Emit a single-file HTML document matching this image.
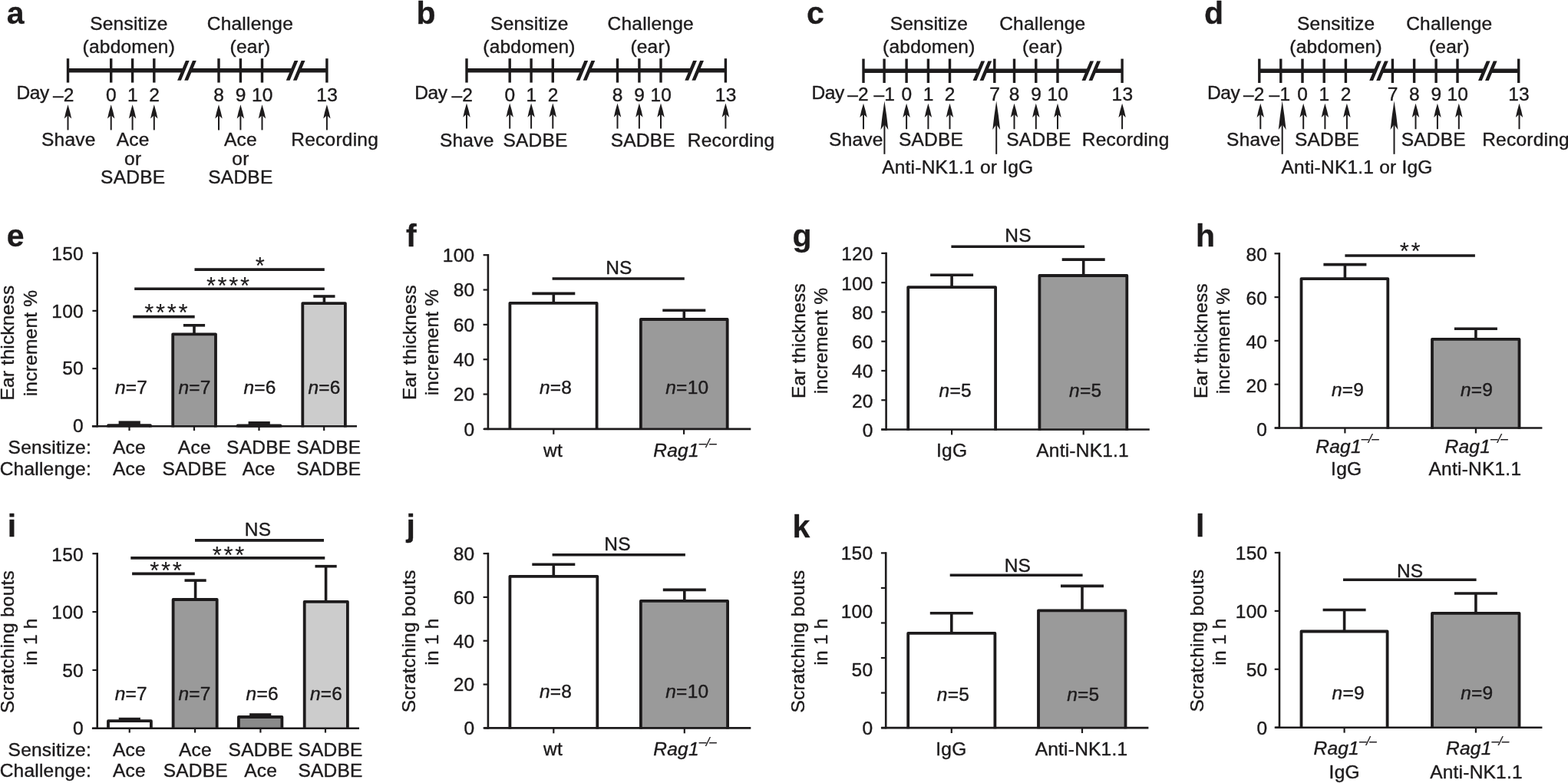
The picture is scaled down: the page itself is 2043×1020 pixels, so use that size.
<!DOCTYPE html>
<html lang="en">
<head>
<meta charset="utf-8">
<title>Figure</title>
<style>
html,body{margin:0;padding:0;background:#fff;}
body{width:2043px;height:1020px;overflow:hidden;}
svg{display:block;}
svg text{font-family:"Liberation Sans",Arial,Helvetica,sans-serif;font-size:24.5px;fill:#1d1b1c;stroke:#1d1b1c;stroke-width:0.4px;stroke-linejoin:round;letter-spacing:0.22px;}
</style>
</head>
<body>
<svg width="2043" height="1020" viewBox="0 0 2043 1020" stroke="#1d1b1c" fill="none">
<rect x="0" y="0" width="2043" height="1020" fill="#ffffff" stroke="none"/>
<line x1="88.50" y1="91.80" x2="238.90" y2="91.80" stroke-width="5.4"/>
<line x1="248.00" y1="91.80" x2="380.60" y2="91.80" stroke-width="5.4"/>
<line x1="389.70" y1="91.80" x2="425.90" y2="91.80" stroke-width="5.4"/>
<path d="M231.10 104.70 L235.90 104.70 L246.70 79.00 L241.90 79.00 Z" fill="#1d1b1c" stroke="none"/>
<path d="M240.20 104.70 L245.00 104.70 L255.80 79.00 L251.00 79.00 Z" fill="#1d1b1c" stroke="none"/>
<path d="M372.80 104.70 L377.60 104.70 L388.40 79.00 L383.60 79.00 Z" fill="#1d1b1c" stroke="none"/>
<path d="M381.90 104.70 L386.70 104.70 L397.50 79.00 L392.70 79.00 Z" fill="#1d1b1c" stroke="none"/>
<line x1="88.50" y1="76.20" x2="88.50" y2="107.60" stroke-width="3.4"/>
<line x1="144.70" y1="76.20" x2="144.70" y2="107.60" stroke-width="3.4"/>
<line x1="172.60" y1="76.20" x2="172.60" y2="107.60" stroke-width="3.4"/>
<line x1="200.80" y1="76.20" x2="200.80" y2="107.60" stroke-width="3.4"/>
<line x1="285.00" y1="76.20" x2="285.00" y2="107.60" stroke-width="3.4"/>
<line x1="313.40" y1="76.20" x2="313.40" y2="107.60" stroke-width="3.4"/>
<line x1="341.50" y1="76.20" x2="341.50" y2="107.60" stroke-width="3.4"/>
<line x1="425.90" y1="76.20" x2="425.90" y2="107.60" stroke-width="3.4"/>
<text x="96.60" y="132.00" text-anchor="end">–2</text>
<text x="145.00" y="132.00" text-anchor="middle">0</text>
<text x="172.90" y="132.00" text-anchor="middle">1</text>
<text x="201.10" y="132.00" text-anchor="middle">2</text>
<text x="285.30" y="132.00" text-anchor="middle">8</text>
<text x="313.70" y="132.00" text-anchor="middle">9</text>
<text x="341.80" y="132.00" text-anchor="middle">10</text>
<text x="426.20" y="132.00" text-anchor="middle">13</text>
<text x="21.50" y="129.10" style="letter-spacing:-0.4px">Day</text>
<line x1="88.50" y1="149.20" x2="88.50" y2="169.40" stroke-width="2.0"/>
<path d="M88.50 136.20 Q91.41 145.66 93.20 154.40 L88.50 150.20 L83.80 154.40 Q85.59 145.66 88.50 136.20 Z" fill="#1d1b1c" stroke="none"/>
<line x1="144.70" y1="149.20" x2="144.70" y2="169.40" stroke-width="2.0"/>
<path d="M144.70 136.20 Q147.61 145.66 149.40 154.40 L144.70 150.20 L140.00 154.40 Q141.79 145.66 144.70 136.20 Z" fill="#1d1b1c" stroke="none"/>
<line x1="172.60" y1="149.20" x2="172.60" y2="169.40" stroke-width="2.0"/>
<path d="M172.60 136.20 Q175.51 145.66 177.30 154.40 L172.60 150.20 L167.90 154.40 Q169.69 145.66 172.60 136.20 Z" fill="#1d1b1c" stroke="none"/>
<line x1="200.80" y1="149.20" x2="200.80" y2="169.40" stroke-width="2.0"/>
<path d="M200.80 136.20 Q203.71 145.66 205.50 154.40 L200.80 150.20 L196.10 154.40 Q197.89 145.66 200.80 136.20 Z" fill="#1d1b1c" stroke="none"/>
<line x1="285.00" y1="149.20" x2="285.00" y2="169.40" stroke-width="2.0"/>
<path d="M285.00 136.20 Q287.91 145.66 289.70 154.40 L285.00 150.20 L280.30 154.40 Q282.09 145.66 285.00 136.20 Z" fill="#1d1b1c" stroke="none"/>
<line x1="313.40" y1="149.20" x2="313.40" y2="169.40" stroke-width="2.0"/>
<path d="M313.40 136.20 Q316.31 145.66 318.10 154.40 L313.40 150.20 L308.70 154.40 Q310.49 145.66 313.40 136.20 Z" fill="#1d1b1c" stroke="none"/>
<line x1="341.50" y1="149.20" x2="341.50" y2="169.40" stroke-width="2.0"/>
<path d="M341.50 136.20 Q344.41 145.66 346.20 154.40 L341.50 150.20 L336.80 154.40 Q338.59 145.66 341.50 136.20 Z" fill="#1d1b1c" stroke="none"/>
<line x1="425.90" y1="149.20" x2="425.90" y2="169.40" stroke-width="2.0"/>
<path d="M425.90 136.20 Q428.81 145.66 430.60 154.40 L425.90 150.20 L421.20 154.40 Q422.99 145.66 425.90 136.20 Z" fill="#1d1b1c" stroke="none"/>
<text x="167.90" y="38.70" text-anchor="middle">Sensitize</text>
<text x="167.80" y="68.80" text-anchor="middle">(abdomen)</text>
<text x="325.90" y="38.70" text-anchor="middle">Challenge</text>
<text x="326.00" y="68.80" text-anchor="middle">(ear)</text>
<text x="89.30" y="190.20" text-anchor="middle">Shave</text>
<text x="173.20" y="190.20" text-anchor="middle">Ace</text>
<text x="173.20" y="214.60" text-anchor="middle">or</text>
<text x="173.20" y="239.40" text-anchor="middle">SADBE</text>
<text x="313.40" y="190.20" text-anchor="middle">Ace</text>
<text x="313.40" y="214.60" text-anchor="middle">or</text>
<text x="313.40" y="239.40" text-anchor="middle">SADBE</text>
<text x="436.20" y="190.20" text-anchor="middle">Recording</text>
<line x1="608.00" y1="91.80" x2="758.40" y2="91.80" stroke-width="5.4"/>
<line x1="767.50" y1="91.80" x2="900.10" y2="91.80" stroke-width="5.4"/>
<line x1="909.20" y1="91.80" x2="945.40" y2="91.80" stroke-width="5.4"/>
<path d="M750.60 104.70 L755.40 104.70 L766.20 79.00 L761.40 79.00 Z" fill="#1d1b1c" stroke="none"/>
<path d="M759.70 104.70 L764.50 104.70 L775.30 79.00 L770.50 79.00 Z" fill="#1d1b1c" stroke="none"/>
<path d="M892.30 104.70 L897.10 104.70 L907.90 79.00 L903.10 79.00 Z" fill="#1d1b1c" stroke="none"/>
<path d="M901.40 104.70 L906.20 104.70 L917.00 79.00 L912.20 79.00 Z" fill="#1d1b1c" stroke="none"/>
<line x1="608.00" y1="76.20" x2="608.00" y2="107.60" stroke-width="3.4"/>
<line x1="664.20" y1="76.20" x2="664.20" y2="107.60" stroke-width="3.4"/>
<line x1="692.10" y1="76.20" x2="692.10" y2="107.60" stroke-width="3.4"/>
<line x1="720.30" y1="76.20" x2="720.30" y2="107.60" stroke-width="3.4"/>
<line x1="804.50" y1="76.20" x2="804.50" y2="107.60" stroke-width="3.4"/>
<line x1="832.90" y1="76.20" x2="832.90" y2="107.60" stroke-width="3.4"/>
<line x1="861.00" y1="76.20" x2="861.00" y2="107.60" stroke-width="3.4"/>
<line x1="945.40" y1="76.20" x2="945.40" y2="107.60" stroke-width="3.4"/>
<text x="616.10" y="132.40" text-anchor="end">–2</text>
<text x="664.50" y="132.40" text-anchor="middle">0</text>
<text x="692.40" y="132.40" text-anchor="middle">1</text>
<text x="720.60" y="132.40" text-anchor="middle">2</text>
<text x="804.80" y="132.40" text-anchor="middle">8</text>
<text x="833.20" y="132.40" text-anchor="middle">9</text>
<text x="861.30" y="132.40" text-anchor="middle">10</text>
<text x="945.70" y="132.40" text-anchor="middle">13</text>
<text x="540.30" y="129.30" style="letter-spacing:-0.4px">Day</text>
<line x1="608.00" y1="147.50" x2="608.00" y2="167.60" stroke-width="2.0"/>
<path d="M608.00 134.50 Q610.91 143.96 612.70 152.70 L608.00 148.50 L603.30 152.70 Q605.09 143.96 608.00 134.50 Z" fill="#1d1b1c" stroke="none"/>
<line x1="664.20" y1="147.50" x2="664.20" y2="167.60" stroke-width="2.0"/>
<path d="M664.20 134.50 Q667.11 143.96 668.90 152.70 L664.20 148.50 L659.50 152.70 Q661.29 143.96 664.20 134.50 Z" fill="#1d1b1c" stroke="none"/>
<line x1="692.10" y1="147.50" x2="692.10" y2="167.60" stroke-width="2.0"/>
<path d="M692.10 134.50 Q695.01 143.96 696.80 152.70 L692.10 148.50 L687.40 152.70 Q689.19 143.96 692.10 134.50 Z" fill="#1d1b1c" stroke="none"/>
<line x1="720.30" y1="147.50" x2="720.30" y2="167.60" stroke-width="2.0"/>
<path d="M720.30 134.50 Q723.21 143.96 725.00 152.70 L720.30 148.50 L715.60 152.70 Q717.39 143.96 720.30 134.50 Z" fill="#1d1b1c" stroke="none"/>
<line x1="804.50" y1="147.50" x2="804.50" y2="167.60" stroke-width="2.0"/>
<path d="M804.50 134.50 Q807.41 143.96 809.20 152.70 L804.50 148.50 L799.80 152.70 Q801.59 143.96 804.50 134.50 Z" fill="#1d1b1c" stroke="none"/>
<line x1="832.90" y1="147.50" x2="832.90" y2="167.60" stroke-width="2.0"/>
<path d="M832.90 134.50 Q835.81 143.96 837.60 152.70 L832.90 148.50 L828.20 152.70 Q829.99 143.96 832.90 134.50 Z" fill="#1d1b1c" stroke="none"/>
<line x1="861.00" y1="147.50" x2="861.00" y2="167.60" stroke-width="2.0"/>
<path d="M861.00 134.50 Q863.91 143.96 865.70 152.70 L861.00 148.50 L856.30 152.70 Q858.09 143.96 861.00 134.50 Z" fill="#1d1b1c" stroke="none"/>
<line x1="945.40" y1="147.50" x2="945.40" y2="167.60" stroke-width="2.0"/>
<path d="M945.40 134.50 Q948.31 143.96 950.10 152.70 L945.40 148.50 L940.70 152.70 Q942.49 143.96 945.40 134.50 Z" fill="#1d1b1c" stroke="none"/>
<text x="689.80" y="38.70" text-anchor="middle">Sensitize</text>
<text x="689.50" y="68.80" text-anchor="middle">(abdomen)</text>
<text x="847.70" y="38.70" text-anchor="middle">Challenge</text>
<text x="847.80" y="68.80" text-anchor="middle">(ear)</text>
<text x="608.20" y="190.70" text-anchor="middle">Shave</text>
<text x="697.60" y="190.70" text-anchor="middle">SADBE</text>
<text x="837.80" y="190.70" text-anchor="middle">SADBE</text>
<text x="952.60" y="190.70" text-anchor="middle">Recording</text>
<line x1="1125.00" y1="92.20" x2="1275.40" y2="92.20" stroke-width="5.4"/>
<line x1="1284.40" y1="92.20" x2="1417.30" y2="92.20" stroke-width="5.4"/>
<line x1="1426.30" y1="92.20" x2="1462.10" y2="92.20" stroke-width="5.4"/>
<path d="M1267.60 105.10 L1272.40 105.10 L1283.20 79.40 L1278.40 79.40 Z" fill="#1d1b1c" stroke="none"/>
<path d="M1276.60 105.10 L1281.40 105.10 L1292.20 79.40 L1287.40 79.40 Z" fill="#1d1b1c" stroke="none"/>
<path d="M1409.50 105.10 L1414.30 105.10 L1425.10 79.40 L1420.30 79.40 Z" fill="#1d1b1c" stroke="none"/>
<path d="M1418.50 105.10 L1423.30 105.10 L1434.10 79.40 L1429.30 79.40 Z" fill="#1d1b1c" stroke="none"/>
<line x1="1125.00" y1="76.60" x2="1125.00" y2="108.00" stroke-width="3.4"/>
<line x1="1152.10" y1="76.60" x2="1152.10" y2="108.00" stroke-width="3.4"/>
<line x1="1181.10" y1="76.60" x2="1181.10" y2="108.00" stroke-width="3.4"/>
<line x1="1209.40" y1="76.60" x2="1209.40" y2="108.00" stroke-width="3.4"/>
<line x1="1237.50" y1="76.60" x2="1237.50" y2="108.00" stroke-width="3.4"/>
<line x1="1295.80" y1="76.60" x2="1295.80" y2="108.00" stroke-width="3.4"/>
<line x1="1321.50" y1="76.60" x2="1321.50" y2="108.00" stroke-width="3.4"/>
<line x1="1349.80" y1="76.60" x2="1349.80" y2="108.00" stroke-width="3.4"/>
<line x1="1378.00" y1="76.60" x2="1378.00" y2="108.00" stroke-width="3.4"/>
<line x1="1462.10" y1="76.60" x2="1462.10" y2="108.00" stroke-width="3.4"/>
<text x="1131.90" y="131.00" text-anchor="end">–2</text>
<text x="1166.20" y="131.00" text-anchor="end">–1</text>
<text x="1181.40" y="131.00" text-anchor="middle">0</text>
<text x="1209.70" y="131.00" text-anchor="middle">1</text>
<text x="1237.80" y="131.00" text-anchor="middle">2</text>
<text x="1296.10" y="131.00" text-anchor="middle">7</text>
<text x="1321.80" y="131.00" text-anchor="middle">8</text>
<text x="1350.10" y="131.00" text-anchor="middle">9</text>
<text x="1378.30" y="131.00" text-anchor="middle">10</text>
<text x="1462.40" y="131.00" text-anchor="middle">13</text>
<text x="1057.50" y="128.70" style="letter-spacing:-0.4px">Day</text>
<line x1="1125.00" y1="147.80" x2="1125.00" y2="168.20" stroke-width="2.0"/>
<path d="M1125.00 134.80 Q1127.91 144.26 1129.70 153.00 L1125.00 148.80 L1120.30 153.00 Q1122.09 144.26 1125.00 134.80 Z" fill="#1d1b1c" stroke="none"/>
<line x1="1181.10" y1="147.80" x2="1181.10" y2="168.20" stroke-width="2.0"/>
<path d="M1181.10 134.80 Q1184.01 144.26 1185.80 153.00 L1181.10 148.80 L1176.40 153.00 Q1178.19 144.26 1181.10 134.80 Z" fill="#1d1b1c" stroke="none"/>
<line x1="1209.40" y1="147.80" x2="1209.40" y2="168.20" stroke-width="2.0"/>
<path d="M1209.40 134.80 Q1212.31 144.26 1214.10 153.00 L1209.40 148.80 L1204.70 153.00 Q1206.49 144.26 1209.40 134.80 Z" fill="#1d1b1c" stroke="none"/>
<line x1="1237.50" y1="147.80" x2="1237.50" y2="168.20" stroke-width="2.0"/>
<path d="M1237.50 134.80 Q1240.41 144.26 1242.20 153.00 L1237.50 148.80 L1232.80 153.00 Q1234.59 144.26 1237.50 134.80 Z" fill="#1d1b1c" stroke="none"/>
<line x1="1321.50" y1="147.80" x2="1321.50" y2="168.20" stroke-width="2.0"/>
<path d="M1321.50 134.80 Q1324.41 144.26 1326.20 153.00 L1321.50 148.80 L1316.80 153.00 Q1318.59 144.26 1321.50 134.80 Z" fill="#1d1b1c" stroke="none"/>
<line x1="1349.80" y1="147.80" x2="1349.80" y2="168.20" stroke-width="2.0"/>
<path d="M1349.80 134.80 Q1352.71 144.26 1354.50 153.00 L1349.80 148.80 L1345.10 153.00 Q1346.89 144.26 1349.80 134.80 Z" fill="#1d1b1c" stroke="none"/>
<line x1="1378.00" y1="147.80" x2="1378.00" y2="168.20" stroke-width="2.0"/>
<path d="M1378.00 134.80 Q1380.91 144.26 1382.70 153.00 L1378.00 148.80 L1373.30 153.00 Q1375.09 144.26 1378.00 134.80 Z" fill="#1d1b1c" stroke="none"/>
<line x1="1462.10" y1="147.80" x2="1462.10" y2="168.20" stroke-width="2.0"/>
<path d="M1462.10 134.80 Q1465.01 144.26 1466.80 153.00 L1462.10 148.80 L1457.40 153.00 Q1459.19 144.26 1462.10 134.80 Z" fill="#1d1b1c" stroke="none"/>
<line x1="1152.40" y1="161.10" x2="1152.40" y2="200.80" stroke-width="2.0"/>
<path d="M1152.40 131.60 Q1155.44 151.00 1157.30 168.90 L1152.40 162.10 L1147.50 168.90 Q1149.36 151.00 1152.40 131.60 Z" fill="#1d1b1c" stroke="none"/>
<line x1="1298.20" y1="161.10" x2="1298.20" y2="200.80" stroke-width="2.0"/>
<path d="M1298.20 131.60 Q1301.24 151.00 1303.10 168.90 L1298.20 162.10 L1293.30 168.90 Q1295.16 151.00 1298.20 131.60 Z" fill="#1d1b1c" stroke="none"/>
<text x="1210.40" y="38.70" text-anchor="middle">Sensitize</text>
<text x="1210.30" y="68.80" text-anchor="middle">(abdomen)</text>
<text x="1358.30" y="38.70" text-anchor="middle">Challenge</text>
<text x="1358.40" y="68.80" text-anchor="middle">(ear)</text>
<text x="1115.40" y="190.20" text-anchor="middle">Shave</text>
<text x="1213.00" y="190.20" text-anchor="middle">SADBE</text>
<text x="1353.40" y="190.20" text-anchor="middle">SADBE</text>
<text x="1466.70" y="190.20" text-anchor="middle">Recording</text>
<text x="1149.20" y="226.20">Anti-NK1.1 or IgG</text>
<line x1="1640.80" y1="92.20" x2="1792.00" y2="92.20" stroke-width="5.4"/>
<line x1="1801.00" y1="92.20" x2="1933.80" y2="92.20" stroke-width="5.4"/>
<line x1="1942.80" y1="92.20" x2="1978.70" y2="92.20" stroke-width="5.4"/>
<path d="M1784.20 105.10 L1789.00 105.10 L1799.80 79.40 L1795.00 79.40 Z" fill="#1d1b1c" stroke="none"/>
<path d="M1793.20 105.10 L1798.00 105.10 L1808.80 79.40 L1804.00 79.40 Z" fill="#1d1b1c" stroke="none"/>
<path d="M1926.00 105.10 L1930.80 105.10 L1941.60 79.40 L1936.80 79.40 Z" fill="#1d1b1c" stroke="none"/>
<path d="M1935.00 105.10 L1939.80 105.10 L1950.60 79.40 L1945.80 79.40 Z" fill="#1d1b1c" stroke="none"/>
<line x1="1640.80" y1="76.60" x2="1640.80" y2="108.00" stroke-width="3.4"/>
<line x1="1668.80" y1="76.60" x2="1668.80" y2="108.00" stroke-width="3.4"/>
<line x1="1697.00" y1="76.60" x2="1697.00" y2="108.00" stroke-width="3.4"/>
<line x1="1725.20" y1="76.60" x2="1725.20" y2="108.00" stroke-width="3.4"/>
<line x1="1753.40" y1="76.60" x2="1753.40" y2="108.00" stroke-width="3.4"/>
<line x1="1814.40" y1="76.60" x2="1814.40" y2="108.00" stroke-width="3.4"/>
<line x1="1842.60" y1="76.60" x2="1842.60" y2="108.00" stroke-width="3.4"/>
<line x1="1871.10" y1="76.60" x2="1871.10" y2="108.00" stroke-width="3.4"/>
<line x1="1899.00" y1="76.60" x2="1899.00" y2="108.00" stroke-width="3.4"/>
<line x1="1978.70" y1="76.60" x2="1978.70" y2="108.00" stroke-width="3.4"/>
<text x="1647.70" y="131.00" text-anchor="end">–2</text>
<text x="1681.30" y="131.00" text-anchor="end">–1</text>
<text x="1697.30" y="131.00" text-anchor="middle">0</text>
<text x="1725.50" y="131.00" text-anchor="middle">1</text>
<text x="1753.70" y="131.00" text-anchor="middle">2</text>
<text x="1814.70" y="131.00" text-anchor="middle">7</text>
<text x="1842.90" y="131.00" text-anchor="middle">8</text>
<text x="1871.40" y="131.00" text-anchor="middle">9</text>
<text x="1899.30" y="131.00" text-anchor="middle">10</text>
<text x="1979.00" y="131.00" text-anchor="middle">13</text>
<text x="1573.00" y="128.70" style="letter-spacing:-0.4px">Day</text>
<line x1="1642.30" y1="147.80" x2="1642.30" y2="168.20" stroke-width="2.0"/>
<path d="M1642.30 134.80 Q1645.21 144.26 1647.00 153.00 L1642.30 148.80 L1637.60 153.00 Q1639.39 144.26 1642.30 134.80 Z" fill="#1d1b1c" stroke="none"/>
<line x1="1698.20" y1="147.80" x2="1698.20" y2="168.20" stroke-width="2.0"/>
<path d="M1698.20 134.80 Q1701.11 144.26 1702.90 153.00 L1698.20 148.80 L1693.50 153.00 Q1695.29 144.26 1698.20 134.80 Z" fill="#1d1b1c" stroke="none"/>
<line x1="1726.40" y1="147.80" x2="1726.40" y2="168.20" stroke-width="2.0"/>
<path d="M1726.40 134.80 Q1729.31 144.26 1731.10 153.00 L1726.40 148.80 L1721.70 153.00 Q1723.49 144.26 1726.40 134.80 Z" fill="#1d1b1c" stroke="none"/>
<line x1="1754.90" y1="147.80" x2="1754.90" y2="168.20" stroke-width="2.0"/>
<path d="M1754.90 134.80 Q1757.81 144.26 1759.60 153.00 L1754.90 148.80 L1750.20 153.00 Q1751.99 144.26 1754.90 134.80 Z" fill="#1d1b1c" stroke="none"/>
<line x1="1844.50" y1="147.80" x2="1844.50" y2="168.20" stroke-width="2.0"/>
<path d="M1844.50 134.80 Q1847.41 144.26 1849.20 153.00 L1844.50 148.80 L1839.80 153.00 Q1841.59 144.26 1844.50 134.80 Z" fill="#1d1b1c" stroke="none"/>
<line x1="1872.90" y1="147.80" x2="1872.90" y2="168.20" stroke-width="2.0"/>
<path d="M1872.90 134.80 Q1875.81 144.26 1877.60 153.00 L1872.90 148.80 L1868.20 153.00 Q1869.99 144.26 1872.90 134.80 Z" fill="#1d1b1c" stroke="none"/>
<line x1="1900.80" y1="147.80" x2="1900.80" y2="168.20" stroke-width="2.0"/>
<path d="M1900.80 134.80 Q1903.71 144.26 1905.50 153.00 L1900.80 148.80 L1896.10 153.00 Q1897.89 144.26 1900.80 134.80 Z" fill="#1d1b1c" stroke="none"/>
<line x1="1979.50" y1="147.80" x2="1979.50" y2="168.20" stroke-width="2.0"/>
<path d="M1979.50 134.80 Q1982.41 144.26 1984.20 153.00 L1979.50 148.80 L1974.80 153.00 Q1976.59 144.26 1979.50 134.80 Z" fill="#1d1b1c" stroke="none"/>
<line x1="1670.70" y1="161.10" x2="1670.70" y2="200.80" stroke-width="2.0"/>
<path d="M1670.70 131.60 Q1673.74 151.00 1675.60 168.90 L1670.70 162.10 L1665.80 168.90 Q1667.66 151.00 1670.70 131.60 Z" fill="#1d1b1c" stroke="none"/>
<line x1="1816.50" y1="161.10" x2="1816.50" y2="200.80" stroke-width="2.0"/>
<path d="M1816.50 131.60 Q1819.54 151.00 1821.40 168.90 L1816.50 162.10 L1811.60 168.90 Q1813.46 151.00 1816.50 131.60 Z" fill="#1d1b1c" stroke="none"/>
<text x="1740.70" y="38.70" text-anchor="middle">Sensitize</text>
<text x="1740.60" y="68.80" text-anchor="middle">(abdomen)</text>
<text x="1888.30" y="38.70" text-anchor="middle">Challenge</text>
<text x="1888.40" y="68.80" text-anchor="middle">(ear)</text>
<text x="1633.40" y="190.20" text-anchor="middle">Shave</text>
<text x="1729.10" y="190.20" text-anchor="middle">SADBE</text>
<text x="1867.80" y="190.20" text-anchor="middle">SADBE</text>
<text x="1988.00" y="190.20" text-anchor="middle">Recording</text>
<text x="1669.50" y="226.20">Anti-NK1.1 or IgG</text>
<path d="M141.00 556.50 V554.20 H196.00 V556.50" fill="#1d1b1c" stroke-width="3.8" stroke-linejoin="round"/>
<path d="M225.20 556.50 V435.30 H281.00 V556.50" fill="#9a9a9a" stroke-width="3.8" stroke-linejoin="round"/>
<path d="M309.70 556.50 V554.50 H365.40 V556.50" fill="#1d1b1c" stroke-width="3.8" stroke-linejoin="round"/>
<path d="M394.30 556.50 V395.10 H449.90 V556.50" fill="#cccccc" stroke-width="3.8" stroke-linejoin="round"/>
<line x1="168.70" y1="550.80" x2="168.70" y2="553.30" stroke-width="3.6"/>
<line x1="154.60" y1="550.80" x2="182.80" y2="550.80" stroke-width="4.8"/>
<line x1="253.00" y1="423.80" x2="253.00" y2="434.40" stroke-width="3.6"/>
<line x1="238.90" y1="423.80" x2="267.10" y2="423.80" stroke-width="3.6"/>
<line x1="337.70" y1="551.30" x2="337.70" y2="553.60" stroke-width="3.6"/>
<line x1="323.60" y1="551.30" x2="351.80" y2="551.30" stroke-width="4.6"/>
<line x1="422.40" y1="386.00" x2="422.40" y2="394.20" stroke-width="3.6"/>
<line x1="408.30" y1="386.00" x2="436.50" y2="386.00" stroke-width="3.6"/>
<line x1="126.70" y1="328.50" x2="126.70" y2="556.50" stroke-width="2.6"/>
<line x1="119.90" y1="555.30" x2="465.00" y2="555.30" stroke-width="2.6"/>
<line x1="120.40" y1="329.70" x2="126.70" y2="329.70" stroke-width="2.2"/>
<line x1="120.40" y1="404.90" x2="126.70" y2="404.90" stroke-width="2.2"/>
<line x1="120.40" y1="480.10" x2="126.70" y2="480.10" stroke-width="2.2"/>
<line x1="120.40" y1="555.30" x2="126.70" y2="555.30" stroke-width="2.2"/>
<text x="108.90" y="339.10" text-anchor="end">150</text>
<text x="108.90" y="413.50" text-anchor="end">100</text>
<text x="108.90" y="488.10" text-anchor="end">50</text>
<text x="108.90" y="562.80" text-anchor="end">0</text>
<line x1="168.50" y1="555.30" x2="168.50" y2="561.00" stroke-width="2.2"/>
<line x1="253.00" y1="555.30" x2="253.00" y2="561.00" stroke-width="2.2"/>
<line x1="337.50" y1="555.30" x2="337.50" y2="561.00" stroke-width="2.2"/>
<line x1="422.20" y1="555.30" x2="422.20" y2="561.00" stroke-width="2.2"/>
<line x1="253.50" y1="351.10" x2="422.80" y2="351.10" stroke-width="3.6"/>
<text x="338.80" y="357.20" text-anchor="middle" style="font-size:31px;stroke-width:0.1px">*</text>
<line x1="175.20" y1="376.30" x2="422.80" y2="376.30" stroke-width="3.6"/>
<text x="275.05 289.75 304.45 319.15" y="382.50" text-anchor="middle" style="font-size:31px;stroke-width:0.1px">****</text>
<line x1="173.20" y1="412.60" x2="253.70" y2="412.60" stroke-width="3.6"/>
<text x="194.45 209.15 223.85 238.55" y="418.00" text-anchor="middle" style="font-size:31px;stroke-width:0.1px">****</text>
<text x="171.00" y="513.00" text-anchor="middle"><tspan font-style="italic">n</tspan>=7</text>
<text x="253.60" y="513.00" text-anchor="middle"><tspan font-style="italic">n</tspan>=7</text>
<text x="338.60" y="513.00" text-anchor="middle"><tspan font-style="italic">n</tspan>=6</text>
<text x="422.60" y="513.00" text-anchor="middle"><tspan font-style="italic">n</tspan>=6</text>
<text x="119.00" y="590.80" text-anchor="end">Sensitize:</text>
<text x="119.00" y="618.60" text-anchor="end">Challenge:</text>
<text x="168.50" y="590.80" text-anchor="middle">Ace</text>
<text x="168.50" y="618.60" text-anchor="middle">Ace</text>
<text x="253.30" y="590.80" text-anchor="middle">Ace</text>
<text x="253.60" y="618.60" text-anchor="middle">SADBE</text>
<text x="337.20" y="590.80" text-anchor="middle">SADBE</text>
<text x="337.20" y="618.60" text-anchor="middle">Ace</text>
<text x="428.30" y="590.80" text-anchor="middle">SADBE</text>
<text x="428.30" y="618.60" text-anchor="middle">SADBE</text>
<text transform="translate(18.20 446.50) rotate(-90)" text-anchor="middle">Ear thickness</text>
<text transform="translate(48.10 447.00) rotate(-90)" text-anchor="middle">increment %</text>
<path d="M664.40 560.10 V394.80 H777.60 V560.10" fill="#ffffff" stroke-width="3.8" stroke-linejoin="round"/>
<path d="M834.90 560.10 V416.00 H947.70 V560.10" fill="#9a9a9a" stroke-width="3.8" stroke-linejoin="round"/>
<line x1="721.30" y1="382.40" x2="721.30" y2="395.70" stroke-width="3.6"/>
<line x1="693.30" y1="382.40" x2="749.30" y2="382.40" stroke-width="3.6"/>
<line x1="891.30" y1="404.30" x2="891.30" y2="416.90" stroke-width="3.6"/>
<line x1="863.30" y1="404.30" x2="919.30" y2="404.30" stroke-width="3.6"/>
<line x1="635.90" y1="331.00" x2="635.90" y2="560.10" stroke-width="2.6"/>
<line x1="630.60" y1="558.90" x2="978.30" y2="558.90" stroke-width="2.6"/>
<line x1="629.60" y1="332.20" x2="635.90" y2="332.20" stroke-width="2.2"/>
<line x1="629.60" y1="377.54" x2="635.90" y2="377.54" stroke-width="2.2"/>
<line x1="629.60" y1="422.88" x2="635.90" y2="422.88" stroke-width="2.2"/>
<line x1="629.60" y1="468.22" x2="635.90" y2="468.22" stroke-width="2.2"/>
<line x1="629.60" y1="513.56" x2="635.90" y2="513.56" stroke-width="2.2"/>
<line x1="629.60" y1="558.90" x2="635.90" y2="558.90" stroke-width="2.2"/>
<text x="618.40" y="341.10" text-anchor="end">100</text>
<text x="618.40" y="386.44" text-anchor="end">80</text>
<text x="618.40" y="431.78" text-anchor="end">60</text>
<text x="618.40" y="477.12" text-anchor="end">40</text>
<text x="618.40" y="522.46" text-anchor="end">20</text>
<text x="618.40" y="567.80" text-anchor="end">0</text>
<line x1="721.30" y1="558.90" x2="721.30" y2="565.80" stroke-width="2.2"/>
<line x1="891.10" y1="558.90" x2="891.10" y2="565.80" stroke-width="2.2"/>
<line x1="719.60" y1="363.00" x2="891.80" y2="363.00" stroke-width="3.6"/>
<text x="806.40" y="357.00" text-anchor="middle">NS</text>
<text x="724.00" y="513.00" text-anchor="middle"><tspan font-style="italic">n</tspan>=8</text>
<text x="895.30" y="513.00" text-anchor="middle"><tspan font-style="italic">n</tspan>=10</text>
<text x="720.60" y="594.90" text-anchor="middle">wt</text>
<text x="892.30" y="594.90" text-anchor="middle"><tspan font-style="italic">Rag1</tspan><tspan font-style="italic" style="font-size:17.2px;stroke-width:0.2px;letter-spacing:-0.5px" dy="-12.4">–/–</tspan></text>
<text transform="translate(541.50 446.00) rotate(-90)" text-anchor="middle">Ear thickness</text>
<text transform="translate(570.50 446.00) rotate(-90)" text-anchor="middle">increment %</text>
<path d="M1183.20 560.70 V374.10 H1297.10 V560.70" fill="#ffffff" stroke-width="3.8" stroke-linejoin="round"/>
<path d="M1354.40 560.70 V359.00 H1468.30 V560.70" fill="#9a9a9a" stroke-width="3.8" stroke-linejoin="round"/>
<line x1="1240.10" y1="358.30" x2="1240.10" y2="375.00" stroke-width="3.6"/>
<line x1="1212.10" y1="358.30" x2="1268.10" y2="358.30" stroke-width="3.6"/>
<line x1="1411.70" y1="338.10" x2="1411.70" y2="359.90" stroke-width="3.6"/>
<line x1="1383.70" y1="338.10" x2="1439.70" y2="338.10" stroke-width="3.6"/>
<line x1="1154.60" y1="328.70" x2="1154.60" y2="560.70" stroke-width="2.6"/>
<line x1="1148.20" y1="559.50" x2="1497.80" y2="559.50" stroke-width="2.6"/>
<line x1="1148.30" y1="329.90" x2="1154.60" y2="329.90" stroke-width="2.2"/>
<line x1="1148.30" y1="368.17" x2="1154.60" y2="368.17" stroke-width="2.2"/>
<line x1="1148.30" y1="406.43" x2="1154.60" y2="406.43" stroke-width="2.2"/>
<line x1="1148.30" y1="444.70" x2="1154.60" y2="444.70" stroke-width="2.2"/>
<line x1="1148.30" y1="482.97" x2="1154.60" y2="482.97" stroke-width="2.2"/>
<line x1="1148.30" y1="521.23" x2="1154.60" y2="521.23" stroke-width="2.2"/>
<line x1="1148.30" y1="559.50" x2="1154.60" y2="559.50" stroke-width="2.2"/>
<text x="1137.70" y="339.30" text-anchor="end">120</text>
<text x="1137.70" y="377.57" text-anchor="end">100</text>
<text x="1137.70" y="415.83" text-anchor="end">80</text>
<text x="1137.70" y="454.10" text-anchor="end">60</text>
<text x="1137.70" y="492.37" text-anchor="end">40</text>
<text x="1137.70" y="530.63" text-anchor="end">20</text>
<text x="1137.70" y="568.90" text-anchor="end">0</text>
<line x1="1240.10" y1="559.50" x2="1240.10" y2="566.40" stroke-width="2.2"/>
<line x1="1411.70" y1="559.50" x2="1411.70" y2="566.40" stroke-width="2.2"/>
<line x1="1239.40" y1="321.20" x2="1413.10" y2="321.20" stroke-width="3.6"/>
<text x="1326.60" y="314.50" text-anchor="middle">NS</text>
<text x="1244.70" y="516.90" text-anchor="middle"><tspan font-style="italic">n</tspan>=5</text>
<text x="1414.20" y="516.90" text-anchor="middle"><tspan font-style="italic">n</tspan>=5</text>
<text x="1240.10" y="594.90" text-anchor="middle">IgG</text>
<text x="1410.60" y="594.90" text-anchor="middle">Anti-NK1.1</text>
<text transform="translate(1048.50 444.00) rotate(-90)" text-anchor="middle">Ear thickness</text>
<text transform="translate(1077.50 444.00) rotate(-90)" text-anchor="middle">increment %</text>
<path d="M1695.50 558.70 V363.10 H1808.30 V558.70" fill="#ffffff" stroke-width="3.8" stroke-linejoin="round"/>
<path d="M1866.00 558.70 V441.80 H1979.50 V558.70" fill="#9a9a9a" stroke-width="3.8" stroke-linejoin="round"/>
<line x1="1752.40" y1="344.60" x2="1752.40" y2="364.00" stroke-width="3.6"/>
<line x1="1724.40" y1="344.60" x2="1780.40" y2="344.60" stroke-width="3.6"/>
<line x1="1922.90" y1="428.30" x2="1922.90" y2="442.70" stroke-width="3.6"/>
<line x1="1894.90" y1="428.30" x2="1950.90" y2="428.30" stroke-width="3.6"/>
<line x1="1666.80" y1="329.10" x2="1666.80" y2="558.70" stroke-width="2.6"/>
<line x1="1661.00" y1="557.50" x2="2009.40" y2="557.50" stroke-width="2.6"/>
<line x1="1660.50" y1="330.30" x2="1666.80" y2="330.30" stroke-width="2.2"/>
<line x1="1660.50" y1="387.10" x2="1666.80" y2="387.10" stroke-width="2.2"/>
<line x1="1660.50" y1="443.90" x2="1666.80" y2="443.90" stroke-width="2.2"/>
<line x1="1660.50" y1="500.70" x2="1666.80" y2="500.70" stroke-width="2.2"/>
<line x1="1660.50" y1="557.50" x2="1666.80" y2="557.50" stroke-width="2.2"/>
<text x="1651.20" y="340.40" text-anchor="end">80</text>
<text x="1651.20" y="397.20" text-anchor="end">60</text>
<text x="1651.20" y="454.00" text-anchor="end">40</text>
<text x="1651.20" y="510.80" text-anchor="end">20</text>
<text x="1651.20" y="567.60" text-anchor="end">0</text>
<line x1="1752.40" y1="557.50" x2="1752.40" y2="564.40" stroke-width="2.2"/>
<line x1="1922.90" y1="557.50" x2="1922.90" y2="564.40" stroke-width="2.2"/>
<line x1="1752.40" y1="333.00" x2="1921.90" y2="333.00" stroke-width="3.6"/>
<text x="1829.85 1844.55" y="337.80" text-anchor="middle" style="font-size:31px;stroke-width:0.1px">**</text>
<text x="1756.00" y="515.80" text-anchor="middle"><tspan font-style="italic">n</tspan>=9</text>
<text x="1924.00" y="515.80" text-anchor="middle"><tspan font-style="italic">n</tspan>=9</text>
<text x="1755.30" y="589.50" text-anchor="middle"><tspan font-style="italic">Rag1</tspan><tspan font-style="italic" style="font-size:17.2px;stroke-width:0.2px;letter-spacing:-0.5px" dy="-12.4">–/–</tspan></text>
<text x="1754.20" y="619.40" text-anchor="middle">IgG</text>
<text x="1923.50" y="589.50" text-anchor="middle"><tspan font-style="italic">Rag1</tspan><tspan font-style="italic" style="font-size:17.2px;stroke-width:0.2px;letter-spacing:-0.5px" dy="-12.4">–/–</tspan></text>
<text x="1921.90" y="619.40" text-anchor="middle">Anti-NK1.1</text>
<text transform="translate(1572.50 444.00) rotate(-90)" text-anchor="middle">Ear thickness</text>
<text transform="translate(1601.50 444.00) rotate(-90)" text-anchor="middle">increment %</text>
<path d="M141.00 950.00 V939.20 H196.90 V950.00" fill="#ffffff" stroke-width="3.8" stroke-linejoin="round"/>
<path d="M225.60 950.00 V781.00 H282.70 V950.00" fill="#9a9a9a" stroke-width="3.8" stroke-linejoin="round"/>
<path d="M310.90 950.00 V934.00 H367.40 V950.00" fill="#8a8a8a" stroke-width="3.8" stroke-linejoin="round"/>
<path d="M396.70 950.00 V783.80 H452.90 V950.00" fill="#cccccc" stroke-width="3.8" stroke-linejoin="round"/>
<line x1="168.80" y1="936.60" x2="168.80" y2="938.30" stroke-width="3.6"/>
<line x1="154.70" y1="936.60" x2="182.90" y2="936.60" stroke-width="3.6"/>
<line x1="254.60" y1="756.10" x2="254.60" y2="780.10" stroke-width="3.6"/>
<line x1="240.50" y1="756.10" x2="268.70" y2="756.10" stroke-width="3.6"/>
<line x1="339.20" y1="931.00" x2="339.20" y2="933.10" stroke-width="3.6"/>
<line x1="325.10" y1="931.00" x2="353.30" y2="931.00" stroke-width="3.6"/>
<line x1="424.60" y1="737.70" x2="424.60" y2="782.90" stroke-width="3.6"/>
<line x1="410.50" y1="737.70" x2="438.70" y2="737.70" stroke-width="3.6"/>
<line x1="126.70" y1="720.00" x2="126.70" y2="950.00" stroke-width="2.6"/>
<line x1="119.90" y1="948.80" x2="468.00" y2="948.80" stroke-width="2.6"/>
<line x1="120.40" y1="721.20" x2="126.70" y2="721.20" stroke-width="2.2"/>
<line x1="120.40" y1="797.07" x2="126.70" y2="797.07" stroke-width="2.2"/>
<line x1="120.40" y1="872.93" x2="126.70" y2="872.93" stroke-width="2.2"/>
<line x1="120.40" y1="948.80" x2="126.70" y2="948.80" stroke-width="2.2"/>
<text x="108.90" y="730.50" text-anchor="end">150</text>
<text x="108.90" y="805.90" text-anchor="end">100</text>
<text x="108.90" y="881.50" text-anchor="end">50</text>
<text x="108.90" y="957.20" text-anchor="end">0</text>
<line x1="168.75" y1="948.80" x2="168.75" y2="954.50" stroke-width="2.2"/>
<line x1="254.10" y1="948.80" x2="254.10" y2="954.50" stroke-width="2.2"/>
<line x1="339.40" y1="948.80" x2="339.40" y2="954.50" stroke-width="2.2"/>
<line x1="424.00" y1="948.80" x2="424.00" y2="954.50" stroke-width="2.2"/>
<line x1="254.00" y1="703.90" x2="422.00" y2="703.90" stroke-width="3.6"/>
<text x="336.00" y="697.80" text-anchor="middle">NS</text>
<line x1="170.30" y1="726.90" x2="423.30" y2="726.90" stroke-width="3.6"/>
<text x="282.90 297.60 312.30" y="733.60" text-anchor="middle" style="font-size:31px;stroke-width:0.1px">***</text>
<line x1="172.10" y1="747.40" x2="253.80" y2="747.40" stroke-width="3.6"/>
<text x="201.40 216.10 230.80" y="754.10" text-anchor="middle" style="font-size:31px;stroke-width:0.1px">***</text>
<text x="170.80" y="911.50" text-anchor="middle"><tspan font-style="italic">n</tspan>=7</text>
<text x="253.60" y="911.50" text-anchor="middle"><tspan font-style="italic">n</tspan>=7</text>
<text x="341.70" y="911.50" text-anchor="middle"><tspan font-style="italic">n</tspan>=6</text>
<text x="425.10" y="911.50" text-anchor="middle"><tspan font-style="italic">n</tspan>=6</text>
<text x="119.00" y="985.10" text-anchor="end">Sensitize:</text>
<text x="119.00" y="1012.30" text-anchor="end">Challenge:</text>
<text x="168.50" y="985.10" text-anchor="middle">Ace</text>
<text x="168.50" y="1012.30" text-anchor="middle">Ace</text>
<text x="254.50" y="985.10" text-anchor="middle">Ace</text>
<text x="254.80" y="1012.30" text-anchor="middle">SADBE</text>
<text x="339.70" y="985.10" text-anchor="middle">SADBE</text>
<text x="339.70" y="1012.30" text-anchor="middle">Ace</text>
<text x="430.50" y="985.10" text-anchor="middle">SADBE</text>
<text x="430.50" y="1012.30" text-anchor="middle">SADBE</text>
<text transform="translate(18.20 836.00) rotate(-90)" text-anchor="middle">Scratching bouts</text>
<text transform="translate(48.10 836.00) rotate(-90)" text-anchor="middle">in 1 h</text>
<path d="M664.40 949.60 V750.80 H778.30 V949.60" fill="#ffffff" stroke-width="3.8" stroke-linejoin="round"/>
<path d="M834.90 949.60 V782.90 H948.10 V949.60" fill="#9a9a9a" stroke-width="3.8" stroke-linejoin="round"/>
<line x1="721.30" y1="735.20" x2="721.30" y2="751.70" stroke-width="3.6"/>
<line x1="693.30" y1="735.20" x2="749.30" y2="735.20" stroke-width="3.6"/>
<line x1="891.80" y1="768.40" x2="891.80" y2="783.80" stroke-width="3.6"/>
<line x1="863.80" y1="768.40" x2="919.80" y2="768.40" stroke-width="3.6"/>
<line x1="635.90" y1="719.90" x2="635.90" y2="949.60" stroke-width="2.6"/>
<line x1="630.60" y1="948.40" x2="978.30" y2="948.40" stroke-width="2.6"/>
<line x1="629.60" y1="721.10" x2="635.90" y2="721.10" stroke-width="2.2"/>
<line x1="629.60" y1="777.92" x2="635.90" y2="777.92" stroke-width="2.2"/>
<line x1="629.60" y1="834.75" x2="635.90" y2="834.75" stroke-width="2.2"/>
<line x1="629.60" y1="891.58" x2="635.90" y2="891.58" stroke-width="2.2"/>
<line x1="629.60" y1="948.40" x2="635.90" y2="948.40" stroke-width="2.2"/>
<text x="618.40" y="730.00" text-anchor="end">80</text>
<text x="618.40" y="786.82" text-anchor="end">60</text>
<text x="618.40" y="843.65" text-anchor="end">40</text>
<text x="618.40" y="900.48" text-anchor="end">20</text>
<text x="618.40" y="957.30" text-anchor="end">0</text>
<line x1="721.30" y1="948.40" x2="721.30" y2="955.30" stroke-width="2.2"/>
<line x1="891.80" y1="948.40" x2="891.80" y2="955.30" stroke-width="2.2"/>
<line x1="719.60" y1="722.80" x2="892.90" y2="722.80" stroke-width="3.6"/>
<text x="804.60" y="717.20" text-anchor="middle">NS</text>
<text x="724.00" y="908.90" text-anchor="middle"><tspan font-style="italic">n</tspan>=8</text>
<text x="895.30" y="908.90" text-anchor="middle"><tspan font-style="italic">n</tspan>=10</text>
<text x="720.60" y="984.00" text-anchor="middle">wt</text>
<text x="892.30" y="984.00" text-anchor="middle"><tspan font-style="italic">Rag1</tspan><tspan font-style="italic" style="font-size:17.2px;stroke-width:0.2px;letter-spacing:-0.5px" dy="-12.4">–/–</tspan></text>
<text transform="translate(540.80 835.20) rotate(-90)" text-anchor="middle">Scratching bouts</text>
<text transform="translate(570.50 836.00) rotate(-90)" text-anchor="middle">in 1 h</text>
<path d="M1183.20 949.30 V824.90 H1296.40 V949.30" fill="#ffffff" stroke-width="3.8" stroke-linejoin="round"/>
<path d="M1353.00 949.30 V795.30 H1466.50 V949.30" fill="#9a9a9a" stroke-width="3.8" stroke-linejoin="round"/>
<line x1="1239.80" y1="798.70" x2="1239.80" y2="825.80" stroke-width="3.6"/>
<line x1="1211.80" y1="798.70" x2="1267.80" y2="798.70" stroke-width="3.6"/>
<line x1="1410.00" y1="763.40" x2="1410.00" y2="796.20" stroke-width="3.6"/>
<line x1="1382.00" y1="763.40" x2="1438.00" y2="763.40" stroke-width="3.6"/>
<line x1="1154.20" y1="719.20" x2="1154.20" y2="949.30" stroke-width="2.6"/>
<line x1="1148.20" y1="948.10" x2="1496.40" y2="948.10" stroke-width="2.6"/>
<line x1="1147.90" y1="720.40" x2="1154.20" y2="720.40" stroke-width="2.2"/>
<line x1="1147.90" y1="765.94" x2="1154.20" y2="765.94" stroke-width="2.2"/>
<line x1="1147.90" y1="811.48" x2="1154.20" y2="811.48" stroke-width="2.2"/>
<line x1="1147.90" y1="857.02" x2="1154.20" y2="857.02" stroke-width="2.2"/>
<line x1="1147.90" y1="902.56" x2="1154.20" y2="902.56" stroke-width="2.2"/>
<line x1="1147.90" y1="948.10" x2="1154.20" y2="948.10" stroke-width="2.2"/>
<text x="1137.30" y="729.40" text-anchor="end">150</text>
<text x="1137.30" y="805.10" text-anchor="end">100</text>
<text x="1137.30" y="880.80" text-anchor="end">50</text>
<text x="1137.30" y="956.50" text-anchor="end">0</text>
<line x1="1239.80" y1="948.10" x2="1239.80" y2="955.00" stroke-width="2.2"/>
<line x1="1410.00" y1="948.10" x2="1410.00" y2="955.00" stroke-width="2.2"/>
<line x1="1237.70" y1="749.30" x2="1410.60" y2="749.30" stroke-width="3.6"/>
<text x="1325.90" y="744.70" text-anchor="middle">NS</text>
<text x="1241.90" y="913.40" text-anchor="middle"><tspan font-style="italic">n</tspan>=5</text>
<text x="1411.30" y="913.40" text-anchor="middle"><tspan font-style="italic">n</tspan>=5</text>
<text x="1239.40" y="984.00" text-anchor="middle">IgG</text>
<text x="1409.00" y="984.00" text-anchor="middle">Anti-NK1.1</text>
<text transform="translate(1048.00 835.50) rotate(-90)" text-anchor="middle">Scratching bouts</text>
<text transform="translate(1078.30 836.00) rotate(-90)" text-anchor="middle">in 1 h</text>
<path d="M1695.50 948.90 V822.50 H1807.60 V948.90" fill="#ffffff" stroke-width="3.8" stroke-linejoin="round"/>
<path d="M1866.00 948.90 V798.80 H1979.50 V948.90" fill="#9a9a9a" stroke-width="3.8" stroke-linejoin="round"/>
<line x1="1751.60" y1="794.50" x2="1751.60" y2="823.40" stroke-width="3.6"/>
<line x1="1723.60" y1="794.50" x2="1779.60" y2="794.50" stroke-width="3.6"/>
<line x1="1922.90" y1="773.00" x2="1922.90" y2="799.70" stroke-width="3.6"/>
<line x1="1894.90" y1="773.00" x2="1950.90" y2="773.00" stroke-width="3.6"/>
<line x1="1667.00" y1="718.80" x2="1667.00" y2="948.90" stroke-width="2.6"/>
<line x1="1661.40" y1="947.70" x2="2009.40" y2="947.70" stroke-width="2.6"/>
<line x1="1660.70" y1="720.00" x2="1667.00" y2="720.00" stroke-width="2.2"/>
<line x1="1660.70" y1="795.90" x2="1667.00" y2="795.90" stroke-width="2.2"/>
<line x1="1660.70" y1="871.80" x2="1667.00" y2="871.80" stroke-width="2.2"/>
<line x1="1660.70" y1="947.70" x2="1667.00" y2="947.70" stroke-width="2.2"/>
<text x="1651.40" y="729.40" text-anchor="end">150</text>
<text x="1651.40" y="805.30" text-anchor="end">100</text>
<text x="1651.40" y="881.20" text-anchor="end">50</text>
<text x="1651.40" y="957.10" text-anchor="end">0</text>
<line x1="1751.60" y1="947.70" x2="1751.60" y2="954.60" stroke-width="2.2"/>
<line x1="1922.90" y1="947.70" x2="1922.90" y2="954.60" stroke-width="2.2"/>
<line x1="1750.00" y1="755.30" x2="1923.60" y2="755.30" stroke-width="3.6"/>
<text x="1837.20" y="751.80" text-anchor="middle">NS</text>
<text x="1756.70" y="911.30" text-anchor="middle"><tspan font-style="italic">n</tspan>=9</text>
<text x="1924.30" y="911.30" text-anchor="middle"><tspan font-style="italic">n</tspan>=9</text>
<text x="1752.40" y="983.00" text-anchor="middle"><tspan font-style="italic">Rag1</tspan><tspan font-style="italic" style="font-size:17.2px;stroke-width:0.2px;letter-spacing:-0.5px" dy="-12.4">–/–</tspan></text>
<text x="1751.70" y="1013.50" text-anchor="middle">IgG</text>
<text x="1925.00" y="983.00" text-anchor="middle"><tspan font-style="italic">Rag1</tspan><tspan font-style="italic" style="font-size:17.2px;stroke-width:0.2px;letter-spacing:-0.5px" dy="-12.4">–/–</tspan></text>
<text x="1923.50" y="1013.50" text-anchor="middle">Anti-NK1.1</text>
<text transform="translate(1567.80 834.60) rotate(-90)" text-anchor="middle">Scratching bouts</text>
<text transform="translate(1596.70 836.00) rotate(-90)" text-anchor="middle">in 1 h</text>
<text x="8.80" y="31.00" style="font-size:41px;stroke-width:0.3px" font-weight="bold">a</text>
<text x="542.50" y="31.00" style="font-size:41px;stroke-width:0.3px" font-weight="bold">b</text>
<text x="1051.00" y="31.00" style="font-size:41px;stroke-width:0.3px" font-weight="bold">c</text>
<text x="1569.00" y="31.00" style="font-size:41px;stroke-width:0.3px" font-weight="bold">d</text>
<text x="8.80" y="320.80" style="font-size:41px;stroke-width:0.3px" font-weight="bold">e</text>
<text x="529.00" y="320.80" style="font-size:41px;stroke-width:0.3px" font-weight="bold">f</text>
<text x="1032.50" y="320.90" style="font-size:41px;stroke-width:0.3px" font-weight="bold">g</text>
<text x="1558.00" y="320.80" style="font-size:41px;stroke-width:0.3px" font-weight="bold">h</text>
<text x="9.70" y="699.10" style="font-size:41px;stroke-width:0.3px" font-weight="bold">i</text>
<text x="529.40" y="699.40" style="font-size:41px;stroke-width:0.3px" font-weight="bold">j</text>
<text x="1032.50" y="699.50" style="font-size:41px;stroke-width:0.3px" font-weight="bold">k</text>
<text x="1558.00" y="699.10" style="font-size:41px;stroke-width:0.3px" font-weight="bold">l</text>
</svg>
</body>
</html>
